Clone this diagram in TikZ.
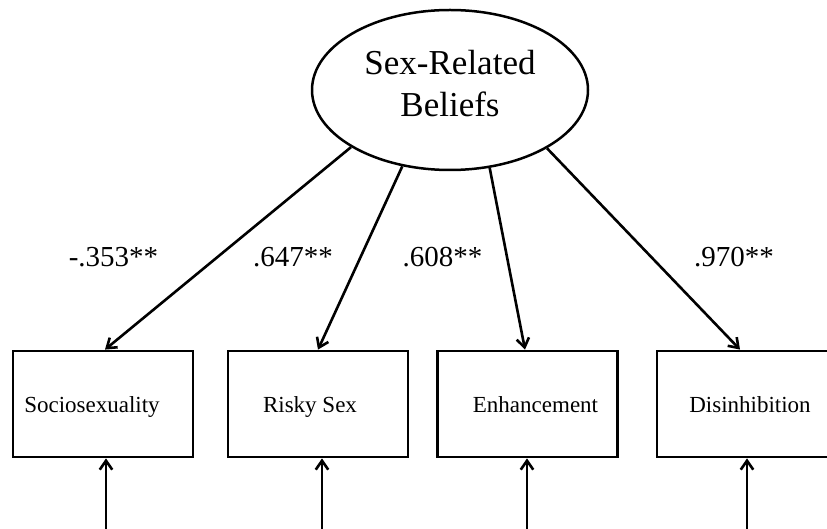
\documentclass[tikz,border=0pt]{standalone}
\usepackage{fontspec}
\setmainfont{Liberation Serif}
\usetikzlibrary{arrows.meta,shapes.geometric}
\begin{document}
\begin{tikzpicture}[x=1pt,y=-1pt,
  latent/.style={draw,line width=2.5pt,ellipse,minimum width=276pt,minimum height=160pt,inner sep=0pt},
  obsbox/.style={draw,line width=2.8pt,rectangle,minimum width=180pt,minimum height=106pt,inner sep=0pt},
  boxtext/.style={font=\fontsize{23}{27}\selectfont,anchor=base,inner sep=0pt},
  bigtext/.style={font=\fontsize{35}{42}\selectfont,anchor=base,inner sep=0pt},
  path/.style={line width=2.6pt,-{Straight Barb[length=9pt,width=12.5pt,line width=2.6pt]}},
  coef/.style={anchor=base,font=\fontsize{29}{34}\selectfont,inner sep=0pt}]
\useasboundingbox (0,0) rectangle (827,529);
\clip (0,0) rectangle (827,529);
\node[latent] (sb) at (450,90) {};
\node[bigtext] (t1) at ([yshift=15pt]sb.center) {Sex-Related};
\node[bigtext] (t2) at ([yshift=-27pt]sb.center) {Beliefs};
\node[obsbox] (b1) at (103,404) {};
\node[obsbox] (b2) at (318,404) {};
\node[obsbox] (b3) at (527.5,404) {};
\node[obsbox] (b4) at (747,404) {};
\node[boxtext] (l1) at ([xshift=-11pt,yshift=-8pt]b1.center) {Sociosexuality};
\node[boxtext] (l2) at ([xshift=-8pt,yshift=-8pt]b2.center) {Risky Sex};
\node[boxtext] (l3) at ([xshift=8pt,yshift=-8pt]b3.center) {Enhancement};
\node[boxtext] (l4) at ([xshift=3pt,yshift=-8pt]b4.center) {Disinhibition};
\coordinate (e1) at (106,535);
\coordinate (e2) at (322,535);
\coordinate (e3) at (527,535);
\coordinate (e4) at (747,535);
\draw[path] (sb.210.5) -- ([xshift=2pt]b1.north);
\draw[path] (sb.238.4) -- (b2.north);
\draw[path] (sb.297.4) -- ([xshift=-2.5pt]b3.north);
\draw[path] (sb.329.4) -- ([xshift=-7pt]b4.north);
\draw[path] (e1) -- (e1 |- b1.south);
\draw[path] (e2) -- (e2 |- b2.south);
\draw[path] (e3) -- (e3 |- b3.south);
\draw[path] (e4) -- (e4 |- b4.south);
\node[coef] (c1) at (113.5,267) {-.353**};
\node[coef] (c2) at (293,267) {.647**};
\node[coef] (c3) at (442.5,267) {.608**};
\node[coef] (c4) at (734,267) {.970**};
\end{tikzpicture}
\end{document}
